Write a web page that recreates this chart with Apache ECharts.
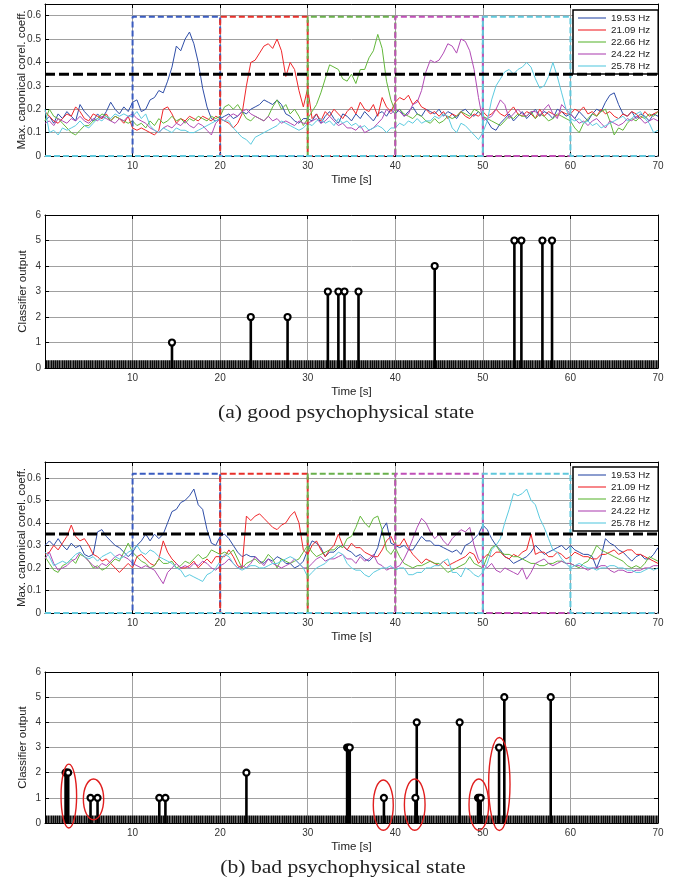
<!DOCTYPE html>
<html>
<head>
<meta charset="utf-8">
<script src="https://cdn.jsdelivr.net/npm/echarts@6/dist/echarts.min.js"></script>
<style>html,body{margin:0;padding:0;background:#fff}#main{width:685px;height:888px}</style>
</head>
<body>
<div id="main"></div>
<script>
// sampling step of the correlation curves (s)
var dt = 0.5;
var legendNames = ['19.53 Hz', '21.09 Hz', '22.66 Hz', '24.22 Hz', '25.78 Hz'];
var lineColors = ['#2f4ea8', '#f0262a', '#62b83a', '#b14ab5', '#5ccbe0'];
var boxColors = ['#3a5cc0', '#e8302a', '#6ab04c', '#c050b8', '#60c8dc'];

// (a) good state - canonical correlation, one value per 0.5 s
var goodBlue = [.15,.17,.14,.18,.16,.19,.17,.15,.22,.19, .17,.15,.18,.16,.19,.23,.20,.18,.21,.19,
  .23,.24,.19,.20,.24,.25,.28,.27,.32,.38, .47,.45,.50,.53,.48,.40,.29,.21,.16,.15,
  .16,.17,.18,.16,.17,.19,.18,.20,.21,.22, .24,.23,.22,.24,.22,.18,.17,.15,.14,.16,
  .16,.15,.18,.14,.17,.19,.16,.14,.18,.17, .15,.18,.16,.19,.17,.15,.18,.19,.17,.20,
  .18,.20,.17,.19,.21,.18,.17,.20,.19,.18, .20,.17,.19,.18,.16,.19,.20,.18,.17,.19,
  .17,.15,.12,.11,.14,.16,.18,.15,.17,.19, .16,.18,.20,.17,.19,.18,.16,.20,.19,.17,
  .18,.16,.19,.17,.15,.18,.20,.19,.23,.26, .27,.22,.18,.17,.19,.16,.18,.17,.15,.18, .17];
var goodRed = [.19,.17,.15,.14,.16,.18,.17,.21,.19,.16, .15,.18,.17,.16,.18,.15,.17,.16,.14,.17,
  .12,.11,.12,.11,.10,.09,.11,.20,.21,.18, .14,.16,.15,.17,.16,.15,.17,.16,.15,.17,
  .16,.15,.14,.12,.14,.18,.30,.40,.41,.44, .47,.48,.46,.50,.45,.34,.40,.37,.28,.21,
  .29,.16,.18,.15,.19,.17,.20,.18,.16,.19, .21,.18,.23,.20,.19,.22,.17,.25,.21,.19,
  .23,.25,.24,.26,.22,.24,.21,.20,.18,.19, .17,.19,.16,.18,.17,.19,.17,.16,.18,.17,
  .19,.17,.18,.20,.18,.17,.19,.21,.18,.17, .19,.18,.16,.20,.17,.19,.18,.17,.19,.18,
  .18,.20,.19,.21,.18,.19,.17,.20,.18,.19, .17,.16,.18,.17,.19,.18,.16,.19,.17,.18, .19];
var goodGreen = [.15,.20,.17,.16,.14,.12,.10,.09,.11,.13, .13,.15,.16,.18,.17,.15,.17,.16,.15,.14,
  .15,.13,.14,.12,.15,.13,.16,.14,.15,.17, .15,.16,.14,.16,.15,.17,.16,.15,.17,.16,
  .17,.21,.22,.20,.22,.19,.16,.15,.17,.16, .15,.17,.21,.24,.20,.22,.18,.20,.17,.13,
  .16,.19,.22,.27,.33,.39,.38,.37,.33,.32, .35,.31,.37,.37,.42,.45,.52,.46,.32,.24,
  .19,.20,.18,.17,.16,.18,.17,.15,.14,.16, .14,.15,.17,.16,.17,.19,.18,.17,.20,.19,
  .17,.16,.15,.14,.13,.15,.17,.16,.18,.17, .17,.19,.16,.18,.17,.15,.16,.18,.17,.16,
  .15,.12,.10,.14,.16,.18,.17,.19,.20,.15, .09,.12,.11,.14,.16,.15,.17,.16,.18,.17, .19];
var goodMagenta = [.14,.15,.13,.16,.15,.14,.16,.15,.17,.15, .14,.16,.15,.17,.16,.15,.14,.16,.15,.17,
  .18,.16,.15,.14,.12,.11,.10,.12,.13,.12, .14,.13,.15,.13,.12,.14,.13,.11,.09,.14,
  .16,.15,.17,.18,.17,.19,.20,.18,.17,.16, .15,.17,.15,.16,.14,.15,.14,.13,.15,.14,
  .14,.15,.16,.14,.15,.17,.15,.13,.14,.12, .12,.11,.13,.10,.11,.12,.14,.16,.20,.18,
  .20,.19,.17,.18,.22,.23,.28,.36,.41,.40, .41,.44,.48,.47,.44,.50,.49,.45,.37,.25,
  .15,.16,.17,.20,.24,.22,.16,.18,.20,.18, .17,.19,.19,.17,.20,.22,.18,.16,.22,.20,
  .18,.16,.14,.15,.13,.15,.16,.14,.12,.15, .14,.13,.14,.16,.15,.17,.16,.14,.15,.16, .15];
var goodCyan = [.20,.10,.11,.09,.12,.11,.12,.13,.15,.13, .12,.14,.16,.15,.17,.16,.18,.17,.18,.17,
  .17,.19,.16,.18,.13,.11,.10,.12,.11,.10, .12,.11,.11,.10,.10,.11,.12,.13,.14,.15,
  .16,.15,.15,.12,.10,.08,.07,.05,.08,.09, .10,.11,.12,.13,.15,.14,.13,.12,.11,.12,
  .14,.13,.15,.16,.14,.15,.13,.16,.14,.15, .13,.14,.12,.13,.11,.12,.13,.12,.10,.12,
  .12,.14,.13,.15,.14,.16,.14,.15,.15,.17, .16,.18,.17,.12,.10,.14,.13,.11,.09,.07,
  .10,.15,.24,.30,.33,.36,.37,.35,.37,.38, .40,.38,.33,.29,.30,.34,.40,.34,.27,.20,
  .16,.15,.16,.14,.15,.13,.14,.12,.13,.14, .15,.16,.17,.15,.16,.18,.19,.16,.14,.10, .11];

// (b) bad state
var badBlue = [.30,.32,.30,.33,.30,.28,.31,.29,.30,.26, .25,.26,.36,.37,.34,.32,.30,.29,.27,.25,
  .27,.30,.32,.35,.32,.35,.33,.35,.40,.45, .46,.49,.50,.52,.55,.48,.46,.37,.31,.30,
  .34,.35,.33,.30,.27,.25,.26,.25,.25,.23, .22,.24,.23,.25,.24,.22,.22,.20,.21,.23,
  .28,.32,.31,.29,.25,.27,.27,.29,.30,.28, .27,.25,.26,.24,.23,.25,.29,.37,.40,.31,
  .30,.29,.30,.28,.28,.31,.34,.32,.32,.30, .30,.29,.28,.27,.28,.26,.30,.31,.33,.35,
  .39,.37,.33,.30,.28,.25,.24,.22,.23,.24, .25,.27,.30,.28,.26,.27,.28,.29,.30,.28,
  .30,.28,.27,.26,.26,.25,.20,.25,.33,.31, .30,.28,.27,.25,.23,.25,.26,.24,.24,.26, .29];
var badRed = [.26,.27,.30,.28,.31,.34,.39,.34,.32,.33, .30,.26,.25,.23,.24,.22,.20,.18,.20,.22,
  .20,.25,.26,.24,.22,.21,.24,.32,.27,.24, .22,.20,.20,.21,.23,.20,.22,.24,.22,.25,
  .25,.25,.28,.25,.21,.20,.43,.41,.43,.44, .42,.40,.38,.37,.39,.40,.43,.45,.40,.28,
  .26,.30,.32,.28,.25,.28,.30,.35,.30,.28, .31,.29,.29,.27,.26,.25,.25,.28,.32,.34,
  .30,.30,.33,.29,.26,.24,.22,.24,.23,.22, .21,.23,.21,.22,.23,.24,.25,.27,.26,.22,
  .24,.26,.25,.27,.27,.25,.24,.26,.25,.27, .28,.35,.26,.27,.27,.25,.25,.27,.26,.24,
  .25,.27,.26,.25,.25,.24,.24,.26,.26,.27, .28,.26,.27,.28,.28,.26,.26,.25,.24,.23, .22];
var badGreen = [.25,.22,.19,.18,.21,.22,.24,.22,.26,.25, .23,.20,.21,.19,.20,.22,.24,.23,.27,.31,
  .27,.25,.23,.22,.20,.21,.24,.22,.22,.23, .20,.21,.23,.22,.24,.26,.24,.25,.28,.27,
  .26,.27,.26,.28,.24,.20,.22,.23,.24,.22, .23,.26,.24,.20,.24,.23,.22,.23,.24,.27,
  .30,.27,.25,.26,.27,.28,.28,.30,.29,.33, .34,.38,.43,.40,.38,.42,.43,.37,.28,.26,
  .29,.25,.22,.21,.20,.21,.21,.22,.23,.22, .22,.20,.18,.19,.20,.21,.22,.25,.22,.21,
  .20,.25,.29,.30,.27,.26,.26,.25,.25,.24, .23,.22,.22,.21,.21,.22,.22,.23,.23,.22,
  .22,.21,.20,.22,.23,.26,.30,.28,.27,.26, .25,.24,.23,.21,.20,.21,.20,.22,.25,.24, .23];
var badMagenta = [.24,.27,.22,.19,.20,.21,.23,.24,.27,.25, .23,.21,.20,.22,.21,.23,.25,.26,.25,.24,
  .22,.21,.20,.21,.20,.19,.16,.13,.18,.20, .22,.20,.21,.20,.22,.21,.23,.22,.20,.19,
  .21,.22,.24,.22,.20,.21,.20,.22,.25,.23, .21,.24,.22,.21,.20,.21,.22,.24,.22,.20,
  .20,.22,.24,.25,.23,.24,.24,.25,.26,.24, .24,.22,.25,.23,.24,.26,.22,.21,.19,.20,
  .20,.21,.24,.28,.33,.38,.42,.40,.36,.33, .35,.32,.30,.33,.35,.37,.36,.38,.30,.24,
  .22,.20,.22,.19,.18,.20,.19,.18,.17,.20, .15,.18,.22,.23,.24,.22,.21,.22,.23,.22,
  .22,.21,.21,.20,.19,.20,.20,.21,.21,.19, .18,.19,.19,.18,.18,.19,.19,.20,.20,.21, .21];
var badCyan = [.27,.25,.21,.22,.23,.22,.24,.26,.27,.25, .24,.25,.23,.25,.26,.27,.25,.24,.25,.27,
  .28,.30,.27,.26,.28,.27,.25,.24,.23,.22, .20,.19,.16,.17,.16,.15,.14,.17,.18,.20,
  .23,.26,.25,.22,.20,.19,.20,.21,.21,.20, .20,.21,.22,.22,.23,.24,.25,.24,.22,.20,
  .16,.18,.20,.21,.22,.24,.25,.27,.26,.22, .20,.19,.19,.17,.16,.18,.19,.20,.20,.21,
  .19,.20,.20,.17,.17,.18,.18,.20,.20,.21, .21,.23,.24,.18,.18,.16,.20,.19,.17,.16,
  .18,.22,.28,.30,.33,.40,.46,.53,.52,.53, .55,.50,.48,.42,.38,.33,.28,.27,.24,.22,
  .20,.21,.22,.21,.20,.20,.19,.20,.20,.21, .21,.20,.20,.19,.19,.18,.18,.19,.20,.19, .20];

var threshold = 0.35;
var windowStarts = [10, 20, 30, 40, 50];
var windowLen = 10;
var goodBoxTop = 0.595;
var badBoxTop = 0.618;

// classifier output stems
var goodStemTimes = [14.5, 23.5, 27.7, 32.3, 33.5, 34.2, 35.8, 44.5, 53.6, 54.4, 56.8, 57.9];
var goodStemValues = [1, 2, 2, 3, 3, 3, 3, 4, 5, 5, 5, 5];
var badStemTimes = [2.35, 2.5, 2.65, 5.2, 6.0, 13.05, 13.75, 23.0, 34.5, 34.65, 34.8, 38.7,
  42.3, 42.45, 47.35, 49.45, 49.6, 49.75, 51.85, 52.45, 57.75];
var badStemValues = [2, 2, 2, 1, 1, 1, 1, 2, 3, 3, 3, 1, 1, 4, 4, 1, 1, 1, 3, 5, 5];
// zero-output band height drawn by the stem markers at every step
var zeroBand = 0.3;

// red ellipses on (b): centre time, centre value, half width (s), half height
var badMarks = [[2.72, 1.07, 0.89, 1.27], [5.54, 0.94, 1.16, 0.81], [38.63, 0.71, 1.14, 1.0],
  [42.22, 0.73, 1.18, 1.02], [49.54, 0.73, 1.12, 1.02], [51.88, 1.55, 1.22, 1.85]];

var captions = ['(a) good psychophysical state', '(b) bad psychophysical state'];

var font = 'Liberation Sans, Arial, sans-serif';
var gridRects = [
  {left: 45, top: 4, width: 613, height: 152},
  {left: 45, top: 215, width: 613, height: 153},
  {left: 45, top: 462, width: 613, height: 151},
  {left: 45, top: 672, width: 613, height: 151}
];

function toPairs(arr) {
  return arr.map(function (v, i) { return [i * dt, v]; });
}
function zipPairs(xs, ys) {
  return xs.map(function (x, i) { return [x, ys[i]]; });
}
function boxPath(start, top) {
  return [[0, 0], [start, 0], [start, top], [start + windowLen, top], [start + windowLen, 0], [70, 0]];
}
function stripePattern() {
  var c = document.createElement('canvas');
  c.width = 11; c.height = 10;
  var g = c.getContext('2d');
  g.fillStyle = '#5e5e5e'; g.fillRect(0, 0, 11, 10);
  g.fillStyle = '#0a0a0a';
  [0, 2, 4, 7, 9].forEach(function (x) { g.fillRect(x, 0, 1, 10); });
  return c;
}

var xAxes = [], yAxes = [];
var yNames = ['Max. canonical corel. coeff.', 'Classifier output', 'Max. canonical corel. coeff.', 'Classifier output'];
var yMax = [0.65, 6, 0.67, 6];
var yInt = [0.1, 1, 0.1, 1];
var yNameGap = [17, 16, 17, 16];
for (var i = 0; i < 4; i++) {
  xAxes.push({
    type: 'value', gridIndex: i, min: 0, max: 70, interval: 10,
    name: 'Time [s]', nameLocation: 'middle', nameGap: 18, nameMoveOverlap: false,
    nameTextStyle: {fontFamily: font, fontSize: 11.5, color: '#222'},
    axisLine: {lineStyle: {color: '#000', width: 1}},
    axisTick: {inside: true, length: 4, lineStyle: {color: '#000'}},
    axisLabel: {showMinLabel: false, fontFamily: font, fontSize: 10, color: '#333', margin: 5},
    splitLine: {show: true, lineStyle: {color: '#a0a0a0', width: 1}}
  });
  yAxes.push({
    type: 'value', gridIndex: i, min: 0, max: yMax[i], interval: yInt[i],
    name: yNames[i], nameLocation: 'middle', nameGap: yNameGap[i], nameMoveOverlap: false,
    nameTextStyle: {fontFamily: font, fontSize: 11.5, color: '#222'},
    axisLine: {lineStyle: {color: '#000', width: 1}},
    axisTick: {inside: true, length: 4, lineStyle: {color: '#000'}},
    axisLabel: {showMaxLabel: yInt[i] === 1, fontFamily: font, fontSize: 10, color: '#333', margin: 4},
    splitLine: {show: true, lineStyle: {color: '#a0a0a0', width: 1}}
  });
}
for (var k = 0; k < 4; k++) {
  xAxes.push({
    type: 'value', gridIndex: k, position: 'top', min: 0, max: 70, interval: 10,
    axisLine: {onZero: false, lineStyle: {color: '#000'}},
    axisTick: {inside: true, length: 4, lineStyle: {color: '#000'}},
    axisLabel: {show: false}, splitLine: {show: false}
  });
  yAxes.push({
    type: 'value', gridIndex: k, position: 'right', min: 0, max: yMax[k], interval: yInt[k],
    axisLine: {onZero: false, lineStyle: {color: '#000'}},
    axisTick: {inside: true, length: 4, lineStyle: {color: '#000'}},
    axisLabel: {show: false}, splitLine: {show: false}
  });
}

var series = [];
function addCorrPanel(gi, curves, boxTop) {
  curves.forEach(function (c, j) {
    series.push({
      type: 'line', name: legendNames[j], xAxisIndex: gi, yAxisIndex: gi,
      data: toPairs(c), symbol: 'none', color: lineColors[j],
      lineStyle: {width: 1, color: lineColors[j]}, z: 2
    });
  });
  windowStarts.forEach(function (s, j) {
    series.push({
      type: 'line', xAxisIndex: gi, yAxisIndex: gi, data: boxPath(s, boxTop), symbol: 'none',
      lineStyle: {width: 2, type: [6, 3], color: boxColors[j]}, z: 3
    });
  });
  series.push({
    type: 'line', xAxisIndex: gi, yAxisIndex: gi, data: [[0, threshold], [70, threshold]],
    symbol: 'none', lineStyle: {width: 3, type: [10, 4], color: '#000'}, z: 4
  });
}
function addStemPanel(gi, times, values) {
  var pairs = zipPairs(times, values);
  series.push({
    type: 'bar', xAxisIndex: gi, yAxisIndex: gi, data: pairs, barWidth: 2.6,
    itemStyle: {color: '#000'}, z: 3
  });
  series.push({
    type: 'scatter', xAxisIndex: gi, yAxisIndex: gi, data: pairs, symbol: 'circle', symbolSize: 6,
    itemStyle: {color: '#fff', borderColor: '#000', borderWidth: 2.2, opacity: 1}, z: 4
  });
}
addCorrPanel(0, [goodBlue, goodRed, goodGreen, goodMagenta, goodCyan], goodBoxTop);
addStemPanel(1, goodStemTimes, goodStemValues);
addCorrPanel(2, [badBlue, badRed, badGreen, badMagenta, badCyan], badBoxTop);
addStemPanel(3, badStemTimes, badStemValues);

function legendAt(top) {
  return {
    data: legendNames, orient: 'vertical', left: 573, top: top,
    itemWidth: 28, itemHeight: 10, itemGap: 2,
    icon: 'path://M0,0h28v1.1h-28z',
    padding: [3, 8, 3, 5], backgroundColor: '#fff', borderColor: '#000', borderWidth: 1.5,
    textStyle: {fontFamily: font, fontSize: 9.8, color: '#222'},
    selectedMode: false
  };
}

var chart = echarts.init(document.getElementById('main'), null, {renderer: 'canvas'});
chart.setOption({
  animation: false,
  backgroundColor: '#fff',
  grid: gridRects,
  xAxis: xAxes,
  yAxis: yAxes,
  legend: [legendAt(10), legendAt(467)],
  series: series
});

var graphics = [];
[1, 3].forEach(function (gi) {
  var a = chart.convertToPixel({gridIndex: gi}, [0, zeroBand]);
  var b = chart.convertToPixel({gridIndex: gi}, [70, 0]);
  graphics.push({
    type: 'rect', z: 1,
    shape: {x: a[0] + 1, y: a[1], width: b[0] - a[0] - 1, height: b[1] - a[1]},
    style: {fill: {image: stripePattern(), repeat: 'repeat'}}
  });
});
badMarks.forEach(function (m) {
  var c = chart.convertToPixel({gridIndex: 3}, [m[0], m[1]]);
  var e = chart.convertToPixel({gridIndex: 3}, [m[0] + m[2], m[1] + m[3]]);
  graphics.push({
    type: 'ellipse', z: 100,
    shape: {cx: c[0], cy: c[1], rx: e[0] - c[0], ry: c[1] - e[1]},
    style: {fill: null, stroke: '#e01e1e', lineWidth: 1.4}
  });
});
[[346, 413], [343, 868]].forEach(function (p, j) {
  graphics.push({
    type: 'text', x: p[0], y: p[1], scaleX: 1.2, z: 100,
    style: {text: captions[j], font: '18px "Liberation Serif", "Times New Roman", serif',
      fill: '#222', textAlign: 'center', textVerticalAlign: 'middle'}
  });
});
chart.setOption({graphic: graphics});
</script>
</body>
</html>
